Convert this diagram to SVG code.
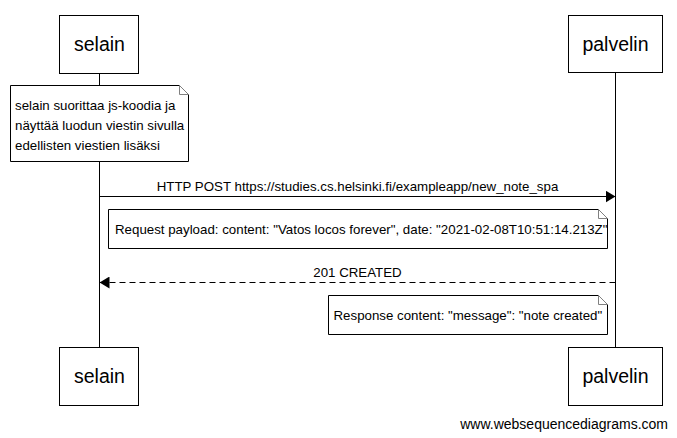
<svg xmlns="http://www.w3.org/2000/svg" width="677" height="438" viewBox="0 0 677 438">
<defs>
<style>
.box{fill:#fff;stroke:#000;stroke-width:1}
.life{stroke:#000;stroke-width:1}
.actor{font-family:"Liberation Sans",Arial,sans-serif;font-size:19.5px;fill:#000;text-anchor:middle}
.t{font-family:"Liberation Sans",Arial,sans-serif;font-size:13.3px;fill:#000}
.fold{fill:#fff;stroke:#808080;stroke-width:1}
.msg{stroke:#000;stroke-width:1;fill:none}
</style>
<marker id="ah" viewBox="0 0 10 12" refX="10" refY="6" markerWidth="10" markerHeight="12" markerUnits="userSpaceOnUse" orient="auto">
<path d="M0,0 L10,6 L0,12 Z" fill="#000"/>
</marker>
</defs>
<rect width="677" height="438" fill="#fff"/>
<g id="lifelines">
<line class="life" x1="99.5" y1="73" x2="99.5" y2="347"/>
<line class="life" x1="615.5" y1="72" x2="615.5" y2="347"/>
</g>
<g id="selain-top">
<rect class="box" x="59.5" y="15.5" width="79" height="58"/>
<text class="actor" x="99.5" y="51">selain</text>
</g>
<g id="palvelin-top">
<rect class="box" x="568.5" y="15.5" width="94" height="57"/>
<text class="actor" x="615.5" y="51">palvelin</text>
</g>
<g id="note1">
<path class="box" d="M10.5,85.5 H179.5 L188.5,94.5 V161.5 H10.5 Z"/>
<path class="fold" d="M179.5,85.5 V94.5 H188.5 Z"/>
<text class="t" x="15" y="110">selain suorittaa js-koodia ja</text>
<text class="t" x="15" y="130">näyttää luodun viestin sivulla</text>
<text class="t" x="15" y="149.5">edellisten viestien lisäksi</text>
</g>
<g id="connectors">
<line class="msg" x1="99.5" y1="196.5" x2="615.5" y2="196.5" marker-end="url(#ah)"/>
<line class="msg" x1="615.5" y1="282.5" x2="99.5" y2="282.5" stroke-dasharray="6,4" marker-end="url(#ah)"/>
<text class="t" x="357.5" y="191" text-anchor="middle">HTTP POST https://studies.cs.helsinki.fi/exampleapp/new_note_spa</text>
<text class="t" x="357.5" y="277" text-anchor="middle">201 CREATED</text>
</g>
<g id="note2">
<path class="box" d="M108.5,209.5 H598.5 L607.5,218.5 V248.5 H108.5 Z"/>
<path class="fold" d="M598.5,209.5 V218.5 H607.5 Z"/>
<text class="t" x="115" y="233.5">Request payload: content: "Vatos locos forever", date: "2021-02-08T10:51:14.213Z"</text>
</g>
<g id="note3">
<path class="box" d="M328.5,295.5 H598.5 L607.5,304.5 V334.5 H328.5 Z"/>
<path class="fold" d="M598.5,295.5 V304.5 H607.5 Z"/>
<text class="t" x="333.5" y="320">Response content: "message": "note created"</text>
</g>
<g id="selain-bottom">
<rect class="box" x="59.5" y="347.5" width="79" height="58"/>
<text class="actor" x="99.5" y="383">selain</text>
</g>
<g id="palvelin-bottom">
<rect class="box" x="568.5" y="347.5" width="94" height="58"/>
<text class="actor" x="615.5" y="383">palvelin</text>
</g>
<text class="t" x="668" y="429" text-anchor="end" style="font-size:14px">www.websequencediagrams.com</text>
</svg>
